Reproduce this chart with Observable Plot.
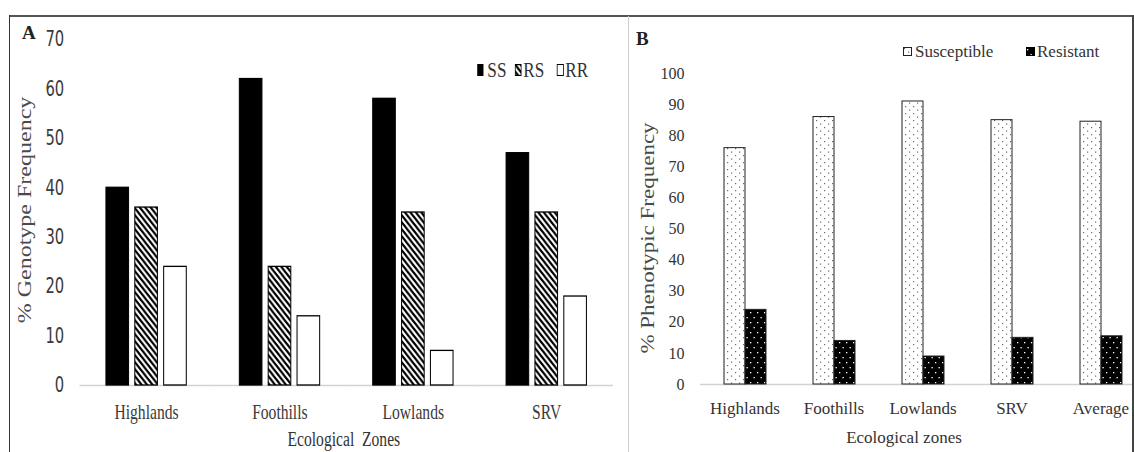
<!DOCTYPE html>
<html>
<head>
<meta charset="utf-8">
<script src="https://cdn.jsdelivr.net/npm/d3@7"></script>
<script src="https://cdn.jsdelivr.net/npm/@observablehq/plot@0.6"></script>
<style>
  html, body { margin: 0; padding: 0; background: #fff; overflow: hidden; }
  #page { position: relative; width: 1134px; height: 452px; overflow: hidden; background: #fff; }
  .abs { position: absolute; }
  .serif { font-family: "Liberation Serif", "Times New Roman", serif; }
  .line { position: absolute; z-index: 5; }
  .vtitle { position: absolute; white-space: nowrap; line-height: 1; }
  .lg { position: absolute; white-space: nowrap; line-height: 1; color: #333; }
  .sw { position: absolute; box-sizing: border-box; }
</style>
</head>
<body>
<div id="page">
  <!-- fill patterns shared by the bars and the legend swatches -->
  <svg width="0" height="0" style="position:absolute;left:0;top:0">
    <defs>
      <pattern id="rsStripe" patternUnits="userSpaceOnUse" width="7" height="7">
        <rect width="7" height="7" fill="#fff"/>
        <path d="M-1,-1 L8,8 M-1,6 L1,8 M6,-1 L8,1" stroke="#000" stroke-width="2.6"/>
      </pattern>
      <pattern id="dotLight" patternUnits="userSpaceOnUse" width="8" height="7">
        <rect width="8" height="7" fill="#fff"/>
        <rect x="1" y="1" width="1.2" height="1.2" fill="#6a6a6a"/>
        <rect x="5" y="4.5" width="1.2" height="1.2" fill="#6a6a6a"/>
      </pattern>
      <pattern id="dotDark" patternUnits="userSpaceOnUse" width="7" height="10">
        <rect width="7" height="10" fill="#000"/>
        <rect x="1" y="2" width="1.3" height="1.3" fill="#fff"/>
        <rect x="4.5" y="7" width="1.3" height="1.3" fill="#fff"/>
      </pattern>
    </defs>
  </svg>

  <!-- panel A is drawn wide, then squeezed horizontally -->
  <div id="wrapA" class="abs" style="left:10px;top:0;width:792px;height:452px;transform:scaleX(0.78);transform-origin:0 0;">
    <div class="vtitle serif" style="left:19px;top:210px;font-size:24px;color:#4a4a4a;transform:translate(-50%,-50%) rotate(-90deg);">% Genotype Frequency</div>
    <div class="vtitle serif" style="left:428px;top:429px;font-size:20px;color:#333;transform:translateX(-50%);">Ecological&nbsp; Zones</div>
    <div class="sw" style="left:599px;top:64px;width:8px;height:12px;background:#000;"></div>
    <div class="lg serif" style="left:612px;top:59px;font-size:22px;">SS</div>
    <svg class="sw" style="left:647px;top:64px" width="9" height="12"><rect x="0.6" y="0.6" width="7.8" height="10.8" fill="url(#rsStripe)" stroke="#000" stroke-width="1.2"/></svg>
    <div class="lg serif" style="left:658px;top:59px;font-size:22px;">RS</div>
    <div class="sw" style="left:701px;top:64px;width:9px;height:12px;background:#fff;border:1.4px solid #000;"></div>
    <div class="lg serif" style="left:712px;top:59px;font-size:22px;">RR</div>
  </div>

  <div id="wrapB" class="abs" style="left:629px;top:0;width:520px;height:452px;"></div>
  <div class="vtitle serif" style="left:648px;top:238px;font-size:23px;color:#4a4a4a;transform:translate(-50%,-50%) rotate(-90deg) scaleY(0.8);">% Phenotypic Frequency</div>
  <div class="vtitle serif" style="left:904px;top:429px;font-size:17px;color:#333;transform:translateX(-50%);">Ecological zones</div>
  <svg class="sw" style="left:903px;top:47px" width="9" height="9"><rect x="0.5" y="0.5" width="8" height="8" fill="url(#dotLight)" stroke="#222" stroke-width="1"/></svg>
  <div class="lg serif" style="left:915px;top:43px;font-size:17px;">Susceptible</div>
  <svg class="sw" style="left:1026px;top:47px" width="9" height="9"><rect x="0.5" y="0.5" width="8" height="8" fill="url(#dotDark)" stroke="#000" stroke-width="1"/></svg>
  <div class="lg serif" style="left:1037px;top:43px;font-size:17px;">Resistant</div>

  <div class="vtitle serif" style="left:22px;top:23px;font-size:19px;font-weight:bold;color:#222;">A</div>
  <div class="vtitle serif" style="left:636px;top:29px;font-size:19px;font-weight:bold;color:#222;">B</div>

  <!-- panel borders -->
  <div class="line" style="left:9px;top:15px;width:1125px;height:1.5px;background:#555;"></div>
  <div class="line" style="left:8.5px;top:15px;width:1.5px;height:437px;background:#333;"></div>
  <div class="line" style="left:628px;top:16px;width:1px;height:436px;background:#cfcfcf;"></div>
  <div class="line" style="left:1132px;top:15px;width:1.5px;height:437px;background:#444;"></div>
</div>

<script>
// Genotype frequencies (%) by ecological zone
const zones = ["Highlands", "Foothills", "Lowlands", "SRV"];
const genotypes = ["SS", "RS", "RR"];
const ssValues = [40, 62, 58, 47];
const rsValues = [36, 24, 35, 35];
const rrValues = [24, 14, 7, 18];
const genotypeTicks = [0, 10, 20, 30, 40, 50, 60, 70];

// Phenotypic frequencies (%) by ecological zone
const zonesB = ["Highlands", "Foothills", "Lowlands", "SRV", "Average"];
const phenotypes = ["Susceptible", "Resistant"];
const susceptibleValues = [76, 86, 91, 85, 84.5];
const resistantValues = [24, 14, 9, 15, 15.5];
const phenotypeTicks = [0, 10, 20, 30, 40, 50, 60, 70, 80, 90, 100];

const genoRows = zones.flatMap((zone, i) => [
  {zone, genotype: "SS", value: ssValues[i]},
  {zone, genotype: "RS", value: rsValues[i]},
  {zone, genotype: "RR", value: rrValues[i]}
]);
const phenoRows = zonesB.flatMap((zone, i) => [
  {zone, phenotype: "Susceptible", value: susceptibleValues[i]},
  {zone, phenotype: "Resistant", value: resistantValues[i]}
]);

const tickFontA = '"Liberation Sans Narrow", "DejaVu Sans Condensed", "Liberation Sans", sans-serif';
const serif = '"Liberation Serif", "Times New Roman", serif';

// Facets tile the x range edge to edge; the gaps between groups come from
// the outer padding of the inner x scale, so the baseline stays continuous.
const plotA = Plot.plot({
  width: 792,
  height: 452,
  marginLeft: 88,
  marginRight: 19,
  marginTop: 39,
  marginBottom: 67,
  style: {background: "transparent", overflow: "visible", color: "#3a3a3a"},
  fx: {domain: zones, padding: 0, label: null},
  x: {domain: genotypes, paddingInner: 0.213, paddingOuter: 0.889, axis: null},
  y: {domain: [0, 70], label: null},
  color: {domain: genotypes, range: ["#000", "url(#rsStripe)", "#fff"]},
  marks: [
    Plot.ruleY([0], {stroke: "#d2d2d2", strokeWidth: 1.6}),
    Plot.barY(genoRows, {fx: "zone", x: "genotype", y: "value", fill: "genotype", stroke: "#000", strokeWidth: 1.3}),
    Plot.axisY(genotypeTicks, {tickSize: 0, tickPadding: 20, fontSize: 21, fontFamily: tickFontA, label: null}),
    Plot.axisFx({anchor: "bottom", tickSize: 0, tickPadding: 19, fontSize: 20, fontFamily: serif, label: null})
  ]
});
document.getElementById("wrapA").prepend(plotA);

const plotB = Plot.plot({
  width: 520,
  height: 452,
  marginLeft: 70,
  marginRight: 3,
  marginTop: 73,
  marginBottom: 68,
  style: {background: "transparent", overflow: "visible", color: "#333"},
  fx: {domain: zonesB, padding: 0, label: null},
  x: {domain: phenotypes, paddingInner: 0, paddingOuter: 1.032, axis: null},
  y: {domain: [0, 100], label: null},
  color: {domain: phenotypes, range: ["url(#dotLight)", "url(#dotDark)"]},
  marks: [
    Plot.ruleY([0], {stroke: "#d2d2d2", strokeWidth: 1.4}),
    Plot.barY(phenoRows, {fx: "zone", x: "phenotype", y: "value", fill: "phenotype", stroke: "#222", strokeWidth: 1}),
    Plot.axisY(phenotypeTicks, {tickSize: 0, tickPadding: 16, fontSize: 16, fontFamily: serif, label: null}),
    Plot.axisFx({anchor: "bottom", tickSize: 0, tickPadding: 17, fontSize: 17, fontFamily: serif, label: null})
  ]
});
document.getElementById("wrapB").prepend(plotB);
</script>
</body>
</html>
